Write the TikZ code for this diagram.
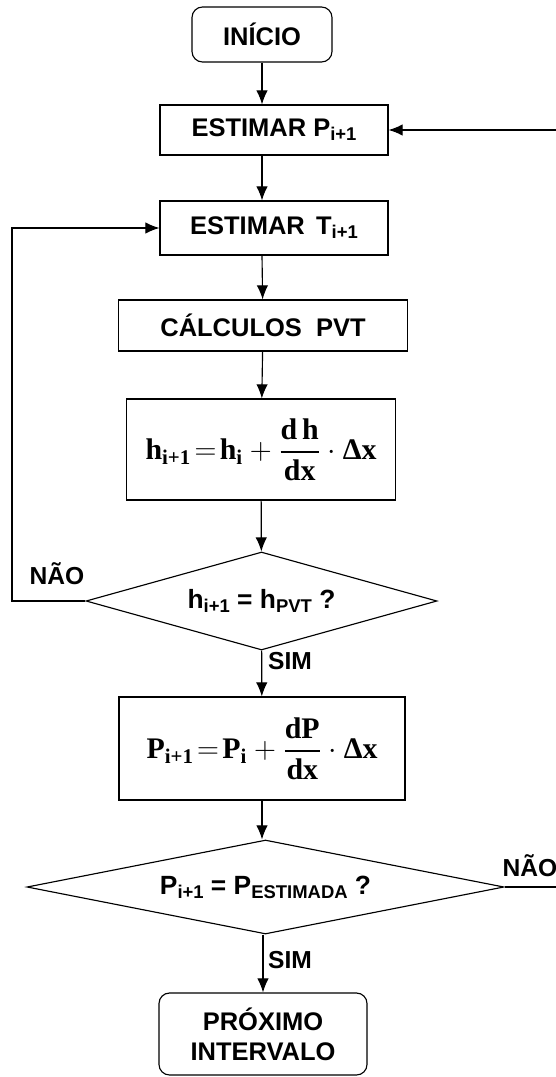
\documentclass[tikz,border=0pt]{standalone}
\usepackage{fontspec}
\usepackage{amsmath}
\setmainfont{Liberation Sans}
\newfontfamily\tnr{Liberation Serif}
\usetikzlibrary{shapes.geometric,arrows.meta}
\newcommand{\ix}[1]{\raisebox{-0.3ex}{\fontsize{10.5}{11}\selectfont #1}}
\newcommand{\tb}[1]{\text{\tnr\bfseries #1}}
\newcommand{\tr}[1]{\text{\tnr #1}}

\begin{document}
\begin{tikzpicture}[
        box/.style={draw, rectangle, line width=0.65pt, align=center, inner sep=0pt,
            font=\bfseries\fontsize{14.5}{17}\selectfont},
        term/.style={box, rounded corners=6pt},
        dec/.style={draw, diamond, line width=0.65pt, inner sep=0pt,
            font=\bfseries\fontsize{15}{17}\selectfont},
        seta/.style={-{Latex[length=8pt,width=6.5pt]}, line width=0.65pt},
        lbl/.style={font=\bfseries\fontsize{14}{16}\selectfont}
    ]
        \useasboundingbox (0,0) rectangle (11.1,-21.54);
        \node[term, minimum width=2.8cm, minimum height=1.1cm] (inicio) at (5.24,-0.69) {INÍCIO};
        \node[box, minimum width=4.56cm, minimum height=1cm] (estp) at (5.48,-2.6) {ESTIMAR P\ix{i+1}};
        \node[box, minimum width=4.56cm, minimum height=1.08cm] (estt) at (5.48,-4.56) {ESTIMAR\, T\ix{i+1}};
        \node[box, minimum width=5.78cm, minimum height=1.02cm] (pvt) at (5.26,-6.51) {CÁLCULOS\ \ PVT};
        \node[box, minimum width=5.38cm, minimum height=2.02cm] (hcalc) at (5.22,-8.99)
            {\fontsize{17}{19}\selectfont$\tb{h}_{\tr{i+1}}\! = \!\tb{h}_{\tr{i}} + \dfrac{\tb{d\,h}}{\tb{dx}}\cdot\tb{Δx}$};
        \node[dec, aspect=3.6, minimum width=7.02cm, minimum height=1.96cm] (hdec) at (5.23,-12.02)
            {h\ix{i+1} = h\ix{PVT} ?};
        \node[box, minimum width=5.72cm, minimum height=2.06cm] (pcalc) at (5.24,-14.97)
            {\fontsize{17}{19}\selectfont$\tb{P}_{\tr{i+1}}\! = \!\tb{P}_{\tr{i}} + \dfrac{\tb{dP}}{\tb{dx}}\cdot\tb{Δx}$};
        \node[dec, aspect=5, minimum width=9.54cm, minimum height=1.88cm] (pdec) at (5.31,-17.74)
            {P\ix{i+1} = P\ix{ESTIMADA} ?};
        \node[term, minimum width=4.16cm, minimum height=1.64cm] (prox) at (5.26,-20.68) {PRÓXIMO\\INTERVALO};

        \coordinate (esq) at (0.24,-12.02);
        \coordinate (dir) at (11.3,-2.6);

        \draw[seta] (inicio) -- (inicio |- estp.north);
        \draw[seta] (inicio |- estp.south) -- (inicio |- estt.north);
        \draw[seta] (inicio |- estt.south) -- (pvt);
        \draw[seta] (pvt) -- (hcalc);
        \draw[seta] (hcalc) -- (hdec);
        \draw[seta] (hdec) -- (pcalc);
        \draw[seta] (pcalc.south) -- (pcalc.south |- pdec.north);
        \draw[seta] (prox.north |- pdec.south) -- (prox.north);
        \draw[seta] (hdec.west) -- (esq) |- (estt.west);
        \draw[seta] (pdec.east) -| (dir) -- (estp.east);

        \node[lbl] (nao1) at (1.14,-11.48) {NÃO};
        \node[lbl] (sim1) at (5.8,-13.22) {SIM};
        \node[lbl] (nao2) at (10.6,-17.32) {NÃO};
        \node[lbl] (sim2) at (5.8,-19.2) {SIM};
    \end{tikzpicture}
\end{document}
